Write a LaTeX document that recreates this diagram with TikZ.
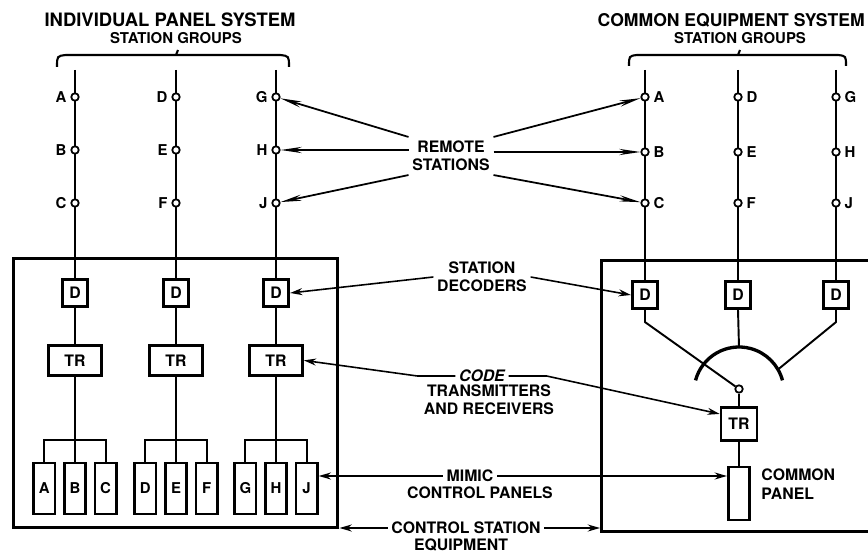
\documentclass[tikz,border=0pt]{standalone}
\usepackage{fontspec}
\setmainfont{TeX Gyre Heros}
\usetikzlibrary{arrows.meta, positioning, calc}

\begin{document}
\begin{tikzpicture}[x=0.02cm, y=-0.02cm,
    font=\bfseries,
    wire/.style={line width=1.1pt},
    stn/.style={circle, draw, fill=white, inner sep=0pt, minimum size=0.15cm,
                line width=1pt, label distance=0pt},
    stlbl/.style={font=\bfseries\fontsize{8.5}{10}\selectfont, inner sep=2pt},
    decbox/.style={rectangle, draw, line width=1.8pt, minimum width=0.5cm,
                   minimum height=0.54cm, inner sep=0pt,
                   font=\bfseries\fontsize{9}{10}\selectfont},
    trbox/.style={rectangle, draw, line width=1.5pt, minimum width=#1,
                  minimum height=0.6cm, inner sep=0pt,
                  font=\bfseries\fontsize{9}{10}\selectfont},
    panel/.style={rectangle, draw, line width=1.5pt, minimum width=0.43cm,
                  minimum height=1.02cm, inner sep=0pt,
                  font=\bfseries\fontsize{8.5}{10}\selectfont},
    frame/.style={rectangle, draw, line width=1.7pt, inner sep=0pt},
    note/.style={align=center, font=\bfseries\fontsize{9}{10.5}\selectfont, inner sep=2pt},
    head/.style={font=\bfseries\fontsize{10.5}{12}\selectfont, inner sep=0pt},
    sub/.style={font=\bfseries\fontsize{8.5}{10}\selectfont, inner sep=0pt},
    brc/.style={line width=1.2pt},
    arrow/.style={-{Stealth[length=7pt, width=4pt]}, line width=0.9pt},
    spear/.style={-{Stealth[length=12pt, width=3.5pt]}, line width=1pt}
  ]
    \useasboundingbox (0,0) rectangle (868,553);
    \clip (0,0) rectangle (868,553);

    \node[head] (ihead) at (170,20) {INDIVIDUAL PANEL SYSTEM};
    \node[sub] (igrp) at (176,38) {STATION GROUPS};
    \node[head, anchor=east, font=\bfseries\fontsize{10}{12}\selectfont] (chead) at (865,20) {COMMON EQUIPMENT SYSTEM};
    \node[sub] (cgrp) at (740,38) {STATION GROUPS};

    \draw[brc] (57,67) .. controls (57,56) .. (66,55) -- (280,55) .. controls (289,56) .. (289,67);
    \draw[brc] (176,55) -- (178,50);
    \draw[brc] (629,66) .. controls (629,56) .. (637,55) -- (838,55) .. controls (846,56) .. (846,66);
    \draw[brc] (738,55) -- (740,50);

    \node[frame, minimum width=6.5cm, minimum height=5.4cm] (lbox) at (175.5,393) {};
    \node[frame, minimum width=5.9cm, minimum height=5.44cm] (rbox) at (749,396) {};

    \foreach \c/\x/\s/\t/\u in {1/75/A/B/C, 2/176/D/E/F, 3/276/G/H/J} {
      \coordinate (ltop\c) at (\x,70);
      \node[decbox] (ld\c) at (\x,293) {D};
      \node[trbox=1.06cm, below=0.72cm of ld\c] (ltr\c) {TR};
      \node[panel, below=1.7cm of ltr\c] (p\t) {\t};
      \node[panel, left=0.13cm of p\t] (p\s) {\s};
      \node[panel, right=0.13cm of p\t] (p\u) {\u};
      \draw[wire] (ltop\c) -- (ld\c);
      \draw[wire] (ld\c) -- (ltr\c);
      \draw[wire] (ltr\c) -- (p\t);
      \draw[wire] (p\s.north) -- ++(0,-22) -| (p\u.north);
      \node[stn, label={[stlbl]left:\s}] (l\s) at (\x,97) {};
      \node[stn, label={[stlbl]left:\t}] (l\t) at (\x,150) {};
      \node[stn, label={[stlbl]left:\u}] (l\u) at (\x,203) {};
    }

    \foreach \c/\x/\s/\t/\u in {1/645/A/B/C, 2/738/D/E/F, 3/836/G/H/J} {
      \coordinate (rtop\c) at (\x,70);
      \node[decbox] (rd\c) at (\x,295) {D};
      \draw[wire] (rtop\c) -- (rd\c);
      \node[stn, label={[stlbl]right:\s}] (r\s) at (\x,97) {};
      \node[stn, label={[stlbl]right:\t}] (r\t) at (\x,152) {};
      \node[stn, label={[stlbl]right:\u}] (r\u) at (\x,203) {};
    }

    \coordinate (arcc) at (739,392);
    \draw[wire] (rd2.south) -- ($(arcc)+(90:0.9cm)$);
    \draw[wire] (rd3.south) -- ++(0,12) -- ($(arcc)+(30:0.9cm)$);
    \draw[line width=1.9pt] ($(arcc)+(165:0.9cm)$) arc[start angle=165, end angle=15, radius=0.9cm];
    \node[stn] (piv) at (739,389) {};
    \draw[wire] (rd1.south) -- ++(0,12) -- (piv);
    \node[trbox=0.72cm, minimum height=0.66cm, below=0.25cm of piv] (rtr) {TR};
    \node[panel, minimum height=1.06cm, below=0.48cm of rtr] (cpan) {};
    \node[note, align=left, anchor=north west, inner sep=0pt] (cplbl) at ($(cpan.north east)+(10,3)$) {COMMON\\PANEL};
    \draw[wire] (piv) -- (rtr);
    \draw[wire] (rtr) -- (cpan);

    \node[note] (rs) at (451,156) {REMOTE\\STATIONS};
    \draw[spear] (rs.north west) -- (lG);
    \draw[spear] (rs.west |- lH) -- (lH);
    \draw[spear] (rs.south west) -- (lJ);
    \draw[spear] (rs.north east) -- (rA);
    \draw[spear] (rs.east |- rB) -- (rB);
    \draw[spear] (rs.south east) -- (rC);

    \node[note] (sd) at (482,277) {STATION\\DECODERS};
    \draw[arrow] (sd.west) -- (ld3.east);
    \draw[arrow] (sd.east) -- (rd1.west);

    \node[note, font=\bfseries\itshape\fontsize{9}{10.5}\selectfont] (code) at (482,376) {CODE};
    \node[note] (trx) at (489,400) {TRANSMITTERS\\AND RECEIVERS};
    \draw[arrow] (code.west) -- ++(-38,0) -- (ltr3.east);
    \draw[arrow] (code.east) -- ++(38,0) -- ([yshift=0.2cm]rtr.west);

    \node[note] (mim) at (470,476) {MIMIC};
    \node[note] (cpl) at (480,493) {CONTROL PANELS};
    \draw[arrow] (mim.west) -- (mim.west -| pJ.east);
    \draw[arrow] (mim.east) -- (mim.east -| cpan.west);

    \node[note] (cse) at (466,528) {CONTROL STATION};
    \node[note] (eqp) at (461,545) {EQUIPMENT};
    \draw[arrow] (cse.west) -- (cse.west -| lbox.east);
    \draw[arrow] (cse.east) -- (cse.east -| rbox.west);
  \end{tikzpicture}
\end{document}
